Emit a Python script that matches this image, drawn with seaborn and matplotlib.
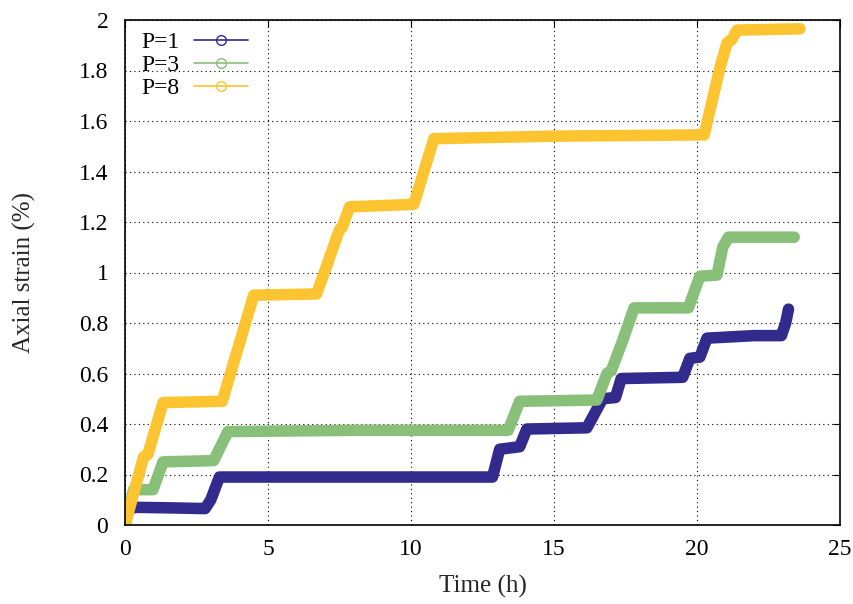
import matplotlib
matplotlib.use("Agg")
import matplotlib.pyplot as plt
import seaborn as sns
import pandas as pd
from matplotlib.lines import Line2D

# ---- data (vertices) ----
t_p1 = [0.0, 0.1, 0.35, 1.5, 2.8, 3.0, 3.3, 6.0, 10.0, 12.85, 13.1, 13.8, 14.05, 16.15, 16.7, 17.15, 17.35, 19.5, 19.75, 20.1, 20.35, 22.0, 22.95, 23.1, 23.2]
s_p1 = [0.0, 0.06, 0.07, 0.068, 0.065, 0.10, 0.19, 0.19, 0.19, 0.19, 0.30, 0.31, 0.38, 0.385, 0.50, 0.505, 0.58, 0.585, 0.66, 0.665, 0.74, 0.75, 0.75, 0.80, 0.855]

t_p3 = [0.0, 0.3, 0.98, 1.33, 3.1, 3.6, 8.0, 13.4, 13.8, 16.5, 16.85, 17.0, 17.4, 17.8, 19.7, 20.1, 20.7, 20.9, 21.1, 23.4]
s_p3 = [0.0, 0.14, 0.14, 0.25, 0.255, 0.37, 0.375, 0.375, 0.49, 0.495, 0.60, 0.61, 0.73, 0.86, 0.86, 0.985, 0.99, 1.10, 1.14, 1.14]

t_p8 = [0.0, 0.65, 0.8, 1.33, 3.4, 4.5, 6.7, 7.5, 7.6, 7.85, 10.1, 10.8, 15.0, 20.25, 20.8, 21.05, 21.2, 21.4, 23.6]
s_p8 = [0.0, 0.27, 0.28, 0.485, 0.49, 0.91, 0.915, 1.17, 1.18, 1.26, 1.27, 1.53, 1.54, 1.545, 1.81, 1.91, 1.92, 1.96, 1.965]

labels = ["P=1", "P=3", "P=8"]
colors = ["#322a8c", "#88c07a", "#fdc431"]
x_ticks = [0, 5, 10, 15, 20, 25]
y_ticks = [0, 0.2, 0.4, 0.6, 0.8, 1, 1.2, 1.4, 1.6, 1.8, 2]
y_ticklabels = ["0", "0.2", "0.4", "0.6", "0.8", "1", "1.2", "1.4", "1.6", "1.8", "2"]

frames = []
for lab, t, s in zip(labels, [t_p1, t_p3, t_p8], [s_p1, s_p3, s_p8]):
    frames.append(pd.DataFrame({"Time": t, "Strain": s, "Series": lab}))
df = pd.concat(frames, ignore_index=True)

sns.set_style("white")
plt.rcParams["font.family"] = ["Liberation Serif", "DejaVu Serif"]

fig = plt.figure(figsize=(8.54, 6.04), dpi=100)
ax = fig.add_axes([125 / 854, 79 / 604, 715 / 854, 505 / 604])

sns.lineplot(data=df, x="Time", y="Strain", hue="Series", palette=colors,
             hue_order=labels, linewidth=8.3, sort=False, estimator=None,
             legend=False, ax=ax)
for ln in ax.lines:
    ln.set_solid_capstyle("round")
    ln.set_solid_joinstyle("round")

ax.set_xlim(0, 25)
ax.set_ylim(0, 2)
ax.set_xticks(x_ticks)
ax.set_xticklabels([str(v) for v in x_ticks])
ax.set_yticks(y_ticks)
ax.set_yticklabels(y_ticklabels)
ax.tick_params(direction="in", length=5, width=0.8, top=True, right=True,
               labelsize=17, colors="black")
ax.tick_params(axis="x", pad=10)
ax.tick_params(axis="y", pad=12)
ax.grid(True, color="black", linestyle=(0, (1, 3)), linewidth=0.8)
ax.set_axisbelow(True)
for sp in ax.spines.values():
    sp.set_color("black")
    sp.set_linewidth(1.2)

ax.set_xlabel("Time (h)", fontsize=18)
ax.set_ylabel("Axial strain (%)", fontsize=18)
ax.xaxis.set_label_coords(0.5, -0.098)
ax.yaxis.set_label_coords(-0.124, 0.5)

handles = [Line2D([0], [0], color=c, lw=1.2, marker="o", markersize=7,
                  markerfacecolor="none", markeredgewidth=1.0) for c in colors]
leg = ax.legend(handles, labels, loc="upper left", frameon=False, fontsize=17,
                markerfirst=False, handlelength=2.3, handletextpad=0.6,
                labelspacing=0.05, borderaxespad=0.0,
                bbox_to_anchor=(0.01, 0.995))
for txt in leg.get_texts():
    txt.set_color("black")

fig.savefig("out.png", dpi=100, facecolor="white")
